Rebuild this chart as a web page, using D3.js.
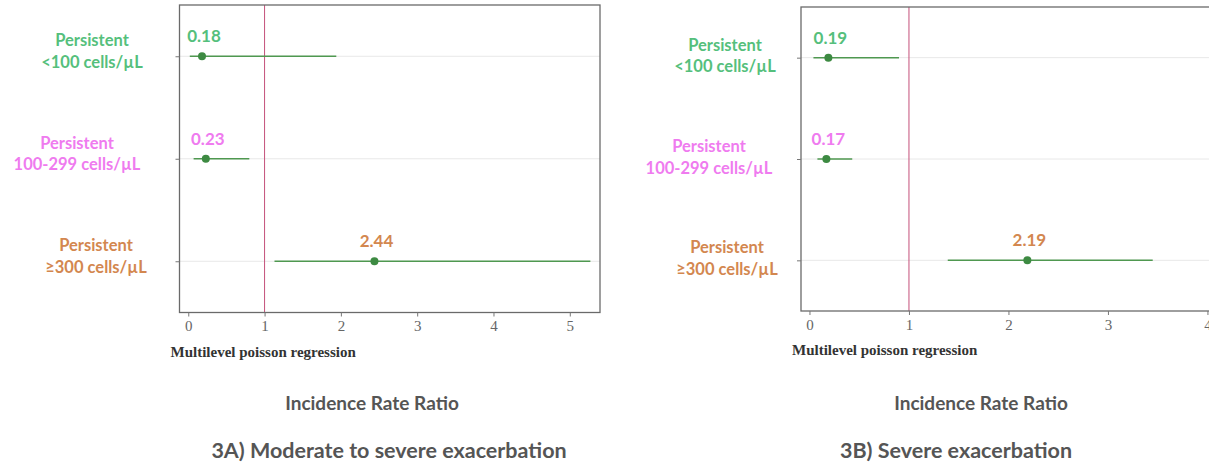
<!DOCTYPE html>
<html>
<head>
<meta charset="utf-8">
<script src="https://cdn.jsdelivr.net/npm/d3@7"></script>
<style>
  body { margin: 0; background: #fff; }
  svg { display: block; }
  .tick text { font-family: "Liberation Serif", "DejaVu Serif", serif; }
</style>
</head>
<body>
<svg id="chart" width="1209" height="468"></svg>
<script>
// categories, two lines each
const catTop = ["Persistent", "Persistent", "Persistent"];
const catBottom = ["<100 cells/\u00b5L", "100-299 cells/\u00b5L", "\u2265300 cells/\u00b5L"];
const catColors = ["#55bf7c", "#ef7bef", "#d3874f"];

// 3A) moderate to severe exacerbation
const irrA = [0.18, 0.23, 2.44];
const lowA = [0.02, 0.07, 1.13];
const highA = [1.94, 0.80, 5.27];
const labelsA = ["0.18", "0.23", "2.44"];
const ticksA = [0, 1, 2, 3, 4, 5];

// 3B) severe exacerbation
const irrB = [0.19, 0.17, 2.19];
const lowB = [0.04, 0.08, 1.39];
const highB = [0.90, 0.43, 3.45];
const labelsB = ["0.19", "0.17", "2.19"];
const ticksB = [0, 1, 2, 3, 4];

const methodLabel = "Multilevel poisson regression";
const xTitle = "Incidence Rate Ratio";
const titles = ["3A) Moderate to severe exacerbation", "3B) Severe exacerbation"];

const svg = d3.select("#chart");

const panels = [
  { est: irrA, lo: lowA, hi: highA, lab: labelsA, ticks: ticksA, title: titles[0],
    left: 179.5, right: 600, top: 5, bottom: 312.5, domain: [-0.115, 5.396],
    labelCx: [92, 77, 96], labelDy: 0, titleCx: 389, xTitleCx: 372 },
  { est: irrB, lo: lowB, hi: highB, lab: labelsB, ticks: ticksB, title: titles[1],
    left: 801, right: 1216, top: 7, bottom: 311, domain: [-0.085, 4.086],
    labelCx: [725, 709, 727], labelDy: 3, titleCx: 956, xTitleCx: 981 }
];

panels.forEach(p => {
  const rows = d3.range(catTop.length);

  const x = d3.scaleLinear()
    .domain(p.domain)
    .range([p.left, p.right]);

  const y = d3.scalePoint()
    .domain(rows)
    .range([p.top, p.bottom])
    .padding(0.5);

  const g = svg.append("g");

  // grid lines
  g.selectAll("line.grid")
    .data(rows)
    .enter().append("line")
    .attr("class", "grid")
    .attr("x1", p.left)
    .attr("x2", p.right)
    .attr("y1", d => y(d))
    .attr("y2", d => y(d))
    .attr("stroke", "#e8e8e8")
    .attr("stroke-width", 1);

  // reference line at 1
  g.append("line")
    .attr("x1", x(1)).attr("x2", x(1))
    .attr("y1", p.top).attr("y2", p.bottom)
    .attr("stroke", "#c4507a")
    .attr("stroke-width", 1);

  // frame
  g.append("rect")
    .attr("x", p.left)
    .attr("y", p.top)
    .attr("width", p.right - p.left)
    .attr("height", p.bottom - p.top)
    .attr("fill", "none")
    .attr("stroke", "#6a6a6a")
    .attr("stroke-width", 1.3);

  // x axis
  const xAxis = d3.axisBottom(x)
    .tickValues(p.ticks)
    .tickFormat(d3.format("d"))
    .tickSize(4)
    .tickPadding(4);

  const gx = g.append("g")
    .attr("transform", `translate(0,${p.bottom})`)
    .call(xAxis);
  gx.select(".domain").remove();
  gx.selectAll(".tick line").attr("stroke", "#777");
  gx.selectAll(".tick text")
    .attr("font-size", 15)
    .attr("fill", "#666");

  // y axis ticks only
  const yAxis = d3.axisLeft(y).tickSize(4).tickFormat("");
  const gy = g.append("g")
    .attr("transform", `translate(${p.left},0)`)
    .call(yAxis);
  gy.select(".domain").remove();
  gy.selectAll(".tick line").attr("stroke", "#777");

  // confidence intervals
  g.selectAll("line.ci")
    .data(rows)
    .enter().append("line")
    .attr("class", "ci")
    .attr("x1", d => x(p.lo[d]))
    .attr("x2", d => x(p.hi[d]))
    .attr("y1", d => y(d))
    .attr("y2", d => y(d))
    .attr("stroke", "#4f9850")
    .attr("stroke-width", 1.5);

  g.selectAll("circle")
    .data(rows)
    .enter().append("circle")
    .attr("cx", d => x(p.est[d]))
    .attr("cy", d => y(d))
    .attr("r", 4)
    .attr("fill", "#3d8a42");

  // value labels
  g.selectAll("text.val")
    .data(rows)
    .enter().append("text")
    .attr("class", "val")
    .attr("x", d => x(p.est[d]) + 2)
    .attr("y", d => y(d) - 14)
    .attr("text-anchor", "middle")
    .attr("font-family", "Lato, sans-serif")
    .attr("font-weight", "bold")
    .attr("font-size", 17)
    .attr("fill", d => catColors[d])
    .text(d => p.lab[d]);

  // category labels
  const cat = g.selectAll("text.cat")
    .data(rows)
    .enter().append("text")
    .attr("class", "cat")
    .attr("text-anchor", "middle")
    .attr("font-family", "Lato, sans-serif")
    .attr("font-weight", "bold")
    .attr("font-size", 16.5)
    .attr("fill", d => catColors[d]);
  cat.append("tspan")
    .attr("x", d => p.labelCx[d])
    .attr("y", d => y(d) - 10 + p.labelDy)
    .text(d => catTop[d]);
  cat.append("tspan")
    .attr("x", d => p.labelCx[d])
    .attr("y", d => y(d) + 11.5 + p.labelDy)
    .text(d => catBottom[d]);

  // method label
  g.append("text")
    .attr("x", p.left - 9)
    .attr("y", p.bottom + 44)
    .attr("font-family", "Liberation Serif, serif")
    .attr("font-weight", "bold")
    .attr("font-size", 15)
    .attr("fill", "#333")
    .text(methodLabel);

  g.append("text")
    .attr("x", p.xTitleCx)
    .attr("y", 410)
    .attr("text-anchor", "middle")
    .attr("font-family", "Lato, sans-serif")
    .attr("font-weight", "bold")
    .attr("font-size", 19)
    .attr("fill", "#555")
    .text(xTitle);

  g.append("text")
    .attr("x", p.titleCx)
    .attr("y", 458)
    .attr("text-anchor", "middle")
    .attr("font-family", "Lato, sans-serif")
    .attr("font-weight", "bold")
    .attr("font-size", 21.5)
    .attr("fill", "#555")
    .text(p.title);
});
</script>
</body>
</html>
